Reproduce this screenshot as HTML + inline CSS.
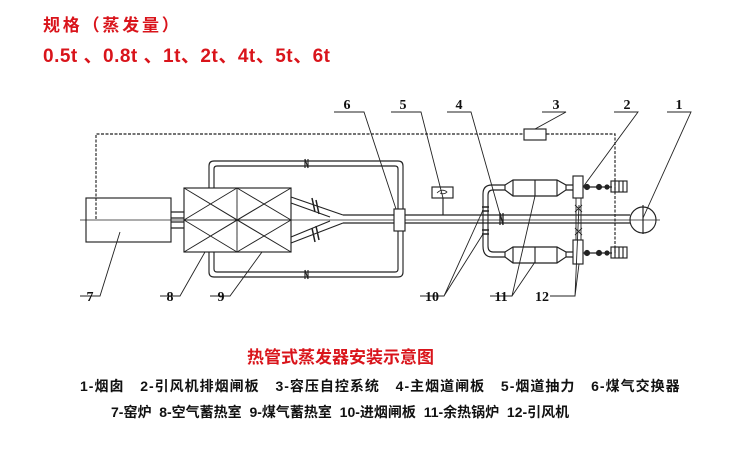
<!DOCTYPE html>
<html><head><meta charset="utf-8"><style>
html,body{margin:0;padding:0;background:#fff;width:737px;height:453px;overflow:hidden}
.t{position:absolute;font-family:"Liberation Sans","Noto Sans CJK SC",sans-serif;font-weight:bold;white-space:nowrap}
</style></head><body>
<div class="t" style="left:43px;top:11px;font-size:17px;letter-spacing:2.8px;color:#d9141b">规格（蒸发量）</div>
<div class="t" style="left:43px;top:41px;font-size:19px;letter-spacing:0.5px;color:#d9141b">0.5t 、0.8t 、1t、2t、4t、5t、6t</div>
<div class="t" style="left:247px;top:343px;font-size:17px;color:#d9141b">热管式蒸发器安装示意图</div>
<div class="t" style="left:80px;top:376px;font-size:14px;color:#111;letter-spacing:1px;word-spacing:3px">1-烟囱&nbsp; 2-引风机排烟闸板&nbsp; 3-容压自控系统&nbsp; 4-主烟道闸板&nbsp; 5-烟道抽力&nbsp; 6-煤气交换器</div>
<div class="t" style="left:111px;top:402px;font-size:14px;color:#111">7-窑炉&nbsp; 8-空气蓄热室&nbsp; 9-煤气蓄热室&nbsp; 10-进烟闸板&nbsp; 11-余热锅炉&nbsp; 12-引风机</div>
<svg width="737" height="453" style="position:absolute;left:0;top:0" fill="none" stroke="#222" stroke-width="1.15">
<path d="M96 219 V134 H615 V253" stroke-dasharray="3,1.5"/>
<line x1="80" y1="220" x2="660" y2="220" stroke-width="0.7"/>
<rect x="86" y="198" width="85" height="44"/>
<path d="M171 212 H184 M171 218 H184 M171 222 H184 M171 228 H184"/>
<rect x="184" y="188" width="107" height="64"/>
<path d="M237 188 V252 M184 220 H291 M184 188 L291 252 M184 252 L291 188 M184 188 L237 220 M184 252 L237 220 M237 188 L291 220 M237 252 L291 220 M184 220 L237 188 M184 220 L237 252 M237 220 L291 188 M237 220 L291 252" stroke-width="0.9"/>
<path d="M209 188 V166 Q209 161 214 161 H398 Q403 161 403 166 V272 Q403 277 398 277 H214 Q209 277 209 272 V252"/>
<path d="M214 188 V169 Q214 166 217 166 H395 Q398 166 398 169 V269 Q398 272 395 272 H217 Q214 272 214 269 V252"/>
<path d="M305 159 V168 M308 159 V168 M305 159 L308 168 M305 270 V279 M308 270 V279 M305 270 L308 279"/>
<path d="M291 197 L343 215 M291 203 L330 217 M291 243 L343 223 M291 237 L330 221"/>
<path d="M312 198 L315 212 M316 200 L319 214 M312 228 L315 242 M316 226 L319 240" stroke-width="1.5"/>
<path d="M343 215 H630 M343 223 H630"/>
<rect x="394" y="209" width="11" height="22" fill="#fff"/>
<rect x="432" y="187" width="21" height="11"/>
<path d="M437 193 Q442 188 447 192 Q444 195 440 193" stroke-width="0.8"/>
<line x1="443" y1="198" x2="443" y2="215"/>
<path d="M500 213 V225 M503 213 V225 M500 213 L503 225" stroke-width="1.3"/>
<path d="M505 185 H492 Q483 185 483 194 V246 Q483 257 492 257 H505"/>
<path d="M505 190 H493 Q488 190 488 195 V246 Q488 252 493 252 H505"/>
<path d="M482 207 H489 M482 211 H489 M482 230 H489 M482 234 H489" stroke-width="1.5"/>
<g id="tk">
<path d="M505 185 L513 180 H557 L566 185 V190 L557 196 H513 L505 190 Z"/>
<line x1="513" y1="180" x2="513" y2="196"/><line x1="557" y1="180" x2="557" y2="196"/><line x1="535" y1="180" x2="535" y2="196"/>
<path d="M566 185 H573 M566 190 H573"/>
</g>
<use href="#tk" transform="translate(0,67)"/>
<rect x="573" y="176" width="10" height="22"/>
<rect x="573" y="240" width="10" height="24"/>
<path d="M576 198 V240 M581 198 V240 M575 205 L582 212 M575 212 L582 205 M575 228 L582 235 M575 235 L582 228" stroke-width="0.9"/>
<g id="fn">
<path d="M583 187 H612"/>
<circle cx="587" cy="187" r="2.5" fill="#222"/><circle cx="599" cy="187" r="2.5" fill="#222"/><circle cx="607" cy="187" r="2" fill="#222"/>
<rect x="611" y="181" width="16" height="11"/>
<path d="M615 181 V192 M619 181 V192 M623 181 V192"/>
</g>
<use href="#fn" transform="translate(0,66)"/>
<circle cx="643" cy="220" r="13"/>
<line x1="643" y1="205" x2="643" y2="234"/>
<rect x="524" y="129" width="22" height="11" fill="#fff"/>
<g stroke-width="0.9">
<path d="M334 112 H364 L396 209"/>
<path d="M391 112 H421 L443 198"/>
<path d="M447 112 H471 L501 218"/>
<path d="M542 112 H566 L535 129"/>
<path d="M614 112 H638 L583 187"/>
<path d="M667 112 H691 L643 218"/>
<path d="M80 296 H100 L120 232"/>
<path d="M160 296 H180 L205 252"/>
<path d="M210 296 H230 L262 252"/>
<path d="M420 296 H444 L483 210 M444 296 L483 234"/>
<path d="M490 296 H512 L535 196 M512 296 L535 262"/>
<path d="M550 296 H575 L579 205 M575 296 L579 264"/>
</g>
</svg>
<svg width="737" height="453" style="position:absolute;left:0;top:0">
<g font-family="Liberation Serif,serif" font-weight="bold" font-size="14" fill="#111" text-anchor="middle">
<text x="347" y="109">6</text><text x="403" y="109">5</text><text x="459" y="109">4</text><text x="556" y="109">3</text><text x="627" y="109">2</text><text x="679" y="109">1</text>
<text x="90" y="301">7</text><text x="170" y="301">8</text><text x="221" y="301">9</text><text x="432" y="301">10</text><text x="501" y="301">11</text><text x="542" y="301">12</text>
</g></svg>
</body></html>
